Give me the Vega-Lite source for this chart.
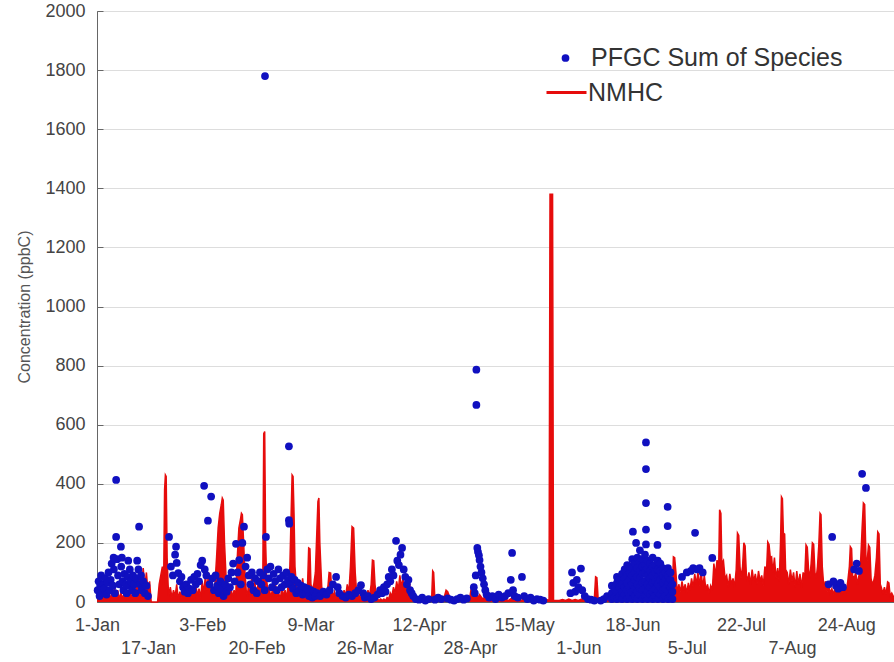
{
  "$schema": "https://vega.github.io/schema/vega-lite/v6.json",
  "width": 797,
  "height": 591,
  "autosize": {"type": "none"},
  "padding": {"left": 97, "top": 11, "right": 0, "bottom": 60},
  "background": "white",
  "config": {
    "font": "Liberation Sans",
    "view": {"stroke": "#666666", "strokeWidth": 1}
  },
  "datasets": {
    "pfgc": [
      {"day":0.2,"conc":40},{"day":0.5,"conc":70},{"day":0.8,"conc":20},{"day":1,"conc":55},{"day":1.3,"conc":90},{"day":1.6,"conc":30},{"day":2,"conc":60},{"day":2.3,"conc":45},{"day":2.6,"conc":80},{"day":3,"conc":25},{"day":3.3,"conc":65},{"day":3.6,"conc":100},{"day":4,"conc":40},{"day":4.3,"conc":75},{"day":4.6,"conc":130},{"day":5,"conc":55},{"day":5.2,"conc":150},{"day":5.3,"conc":110},{"day":5.6,"conc":30},{"day":6,"conc":413},{"day":6,"conc":220},{"day":6.3,"conc":145},{"day":6.6,"conc":90},{"day":7,"conc":60},{"day":7.5,"conc":187},{"day":7.6,"conc":120},{"day":7.8,"conc":150},{"day":8,"conc":70},{"day":8.3,"conc":40},{"day":8.6,"conc":95},{"day":9,"conc":60},{"day":9.3,"conc":30},{"day":9.6,"conc":85},{"day":9.8,"conc":140},{"day":10,"conc":55},{"day":10.3,"conc":110},{"day":10.6,"conc":70},{"day":11,"conc":40},{"day":11.3,"conc":90},{"day":11.6,"conc":60},{"day":12,"conc":30},{"day":12.3,"conc":80},{"day":12.6,"conc":140},{"day":13,"conc":110},{"day":13.2,"conc":255},{"day":13.5,"conc":60},{"day":13.8,"conc":90},{"day":14,"conc":40},{"day":14.5,"conc":70},{"day":15,"conc":30},{"day":15.5,"conc":55},{"day":16,"conc":20},
      {"day":22.6,"conc":220},{"day":23.2,"conc":120},{"day":23.8,"conc":90},{"day":24.5,"conc":160},{"day":24.8,"conc":187},{"day":25,"conc":132},{"day":25.5,"conc":98},{"day":26,"conc":70},{"day":26.5,"conc":85},{"day":27,"conc":50},{"day":27.5,"conc":35},{"day":28,"conc":60},{"day":28.5,"conc":30},{"day":29,"conc":45},{"day":29.5,"conc":75},{"day":30,"conc":40},{"day":30.5,"conc":85},{"day":31,"conc":60},{"day":31.5,"conc":95},{"day":32,"conc":70},{"day":32.5,"conc":125},{"day":33,"conc":140},
      {"day":33.6,"conc":393},{"day":33.8,"conc":110},{"day":34.3,"conc":90},{"day":34.8,"conc":275},{"day":35.3,"conc":60},{"day":35.8,"conc":357},{"day":36.2,"conc":80},{"day":36.7,"conc":40},{"day":37.2,"conc":90},{"day":37.7,"conc":55},{"day":38.2,"conc":30},{"day":38.7,"conc":70},{"day":39.2,"conc":45},{"day":39.7,"conc":20},{"day":40.2,"conc":60},{"day":40.7,"conc":35},{"day":41.2,"conc":80},{"day":41.7,"conc":50},{"day":42.2,"conc":100},{"day":42.7,"conc":130},{"day":43.2,"conc":70},{"day":43.6,"conc":197},{"day":44.1,"conc":100},{"day":44.6,"conc":142},{"day":45.1,"conc":60},{"day":45.6,"conc":200},{"day":46.1,"conc":255},{"day":46.6,"conc":120},{"day":47.1,"conc":150},{"day":47.6,"conc":90},{"day":48.1,"conc":60},{"day":48.6,"conc":100},{"day":49.1,"conc":40},{"day":49.6,"conc":80},{"day":50.1,"conc":30},{"day":50.6,"conc":70},{"day":51.1,"conc":100},{"day":51.6,"conc":60},{"day":52.1,"conc":90},{"day":52.6,"conc":40},{"day":52.7,"conc":1780},{"day":53,"conc":220},{"day":53.4,"conc":110},{"day":53.9,"conc":80},{"day":54.4,"conc":120},{"day":54.9,"conc":50},{"day":55.4,"conc":95},{"day":55.9,"conc":70},{"day":56.4,"conc":40},{"day":56.9,"conc":110},{"day":57.4,"conc":80},{"day":57.9,"conc":50},{"day":58.4,"conc":90},{"day":58.9,"conc":60},{"day":59.4,"conc":100},{"day":59.9,"conc":75},{"day":60.2,"conc":527},{"day":60.2,"conc":277},{"day":60.3,"conc":265},
      {"day":60.6,"conc":60},{"day":61,"conc":85},{"day":61.5,"conc":45},{"day":62,"conc":75},{"day":62.5,"conc":30},{"day":63,"conc":65},{"day":63.5,"conc":40},{"day":64,"conc":55},{"day":64.5,"conc":25},{"day":65,"conc":50},{"day":65.5,"conc":30},{"day":66,"conc":45},{"day":66.5,"conc":20},{"day":67,"conc":40},{"day":67.5,"conc":15},{"day":68,"conc":35},{"day":68.5,"conc":20},{"day":69,"conc":30},{"day":70,"conc":20},{"day":71,"conc":35},{"day":72,"conc":25},{"day":73,"conc":40},{"day":74,"conc":60},{"day":75,"conc":85},{"day":75.5,"conc":50},{"day":76,"conc":30},{"day":77,"conc":20},{"day":78,"conc":15},{"day":79,"conc":25},{"day":80,"conc":20},{"day":81,"conc":30},{"day":82,"conc":40},{"day":82.8,"conc":57},{"day":83.5,"conc":30},{"day":84,"conc":15},{"day":85,"conc":20},{"day":86,"conc":10},{"day":87,"conc":15},{"day":88,"conc":25},{"day":88.8,"conc":40},{"day":89.4,"conc":30},{"day":90,"conc":50},{"day":90.5,"conc":35},{"day":91,"conc":60},{"day":91.5,"conc":85},{"day":92,"conc":70},{"day":92.5,"conc":110},{"day":93,"conc":90},{"day":93.8,"conc":207},{"day":94.2,"conc":140},{"day":94.7,"conc":125},{"day":95.2,"conc":160},{"day":95.7,"conc":183},{"day":96.2,"conc":110},{"day":96.7,"conc":85},{"day":97.2,"conc":60},{"day":97.7,"conc":75},{"day":98.2,"conc":40},{"day":98.7,"conc":30},{"day":99.2,"conc":20},
      {"day":100,"conc":10},{"day":101,"conc":8},{"day":102,"conc":15},{"day":103,"conc":5},{"day":104,"conc":10},{"day":106,"conc":8},{"day":107,"conc":15},{"day":108,"conc":10},{"day":110,"conc":12},{"day":111,"conc":8},{"day":112,"conc":5},{"day":113,"conc":10},{"day":114,"conc":15},{"day":115,"conc":8},{"day":116,"conc":12},{"day":118.2,"conc":50},{"day":118.5,"conc":30},{"day":118.8,"conc":90},{"day":119,"conc":786},{"day":119,"conc":667},{"day":119.3,"conc":183},{"day":119.5,"conc":170},{"day":119.8,"conc":158},{"day":120,"conc":142},{"day":120.3,"conc":120},{"day":120.6,"conc":100},{"day":121,"conc":80},{"day":121.4,"conc":60},{"day":121.8,"conc":40},{"day":122.2,"conc":25},{"day":123,"conc":15},{"day":124,"conc":20},{"day":125,"conc":10},{"day":126,"conc":25},{"day":127,"conc":15},{"day":128,"conc":20},{"day":129,"conc":30},{"day":129.8,"conc":75},{"day":130.2,"conc":166},{"day":130.5,"conc":40},{"day":131,"conc":20},{"day":132,"conc":15},{"day":133.3,"conc":85},{"day":134,"conc":20},{"day":135,"conc":10},{"day":136,"conc":15},{"day":137,"conc":5},{"day":138,"conc":10},{"day":139,"conc":8},{"day":140,"conc":5},
      {"day":148.5,"conc":30},{"day":149,"conc":100},{"day":149.4,"conc":65},{"day":150,"conc":35},{"day":150.5,"conc":75},{"day":151,"conc":50},{"day":151.8,"conc":113},{"day":152.2,"conc":40},{"day":153,"conc":20},{"day":154,"conc":10},{"day":155,"conc":8},{"day":156,"conc":5},{"day":158,"conc":5},{"day":159,"conc":10},{"day":160,"conc":20},
      {"day":161.5,"conc":10},{"day":161.5,"conc":30},{"day":161.5,"conc":55},
      {"day":162.3,"conc":15},{"day":162.3,"conc":45},
      {"day":163.1,"conc":10},{"day":163.1,"conc":35},{"day":163.1,"conc":65},{"day":163.1,"conc":85},
      {"day":163.9,"conc":20},{"day":163.9,"conc":50},{"day":163.9,"conc":75},
      {"day":164.7,"conc":10},{"day":164.7,"conc":35},{"day":164.7,"conc":60},{"day":164.7,"conc":95},
      {"day":165.5,"conc":25},{"day":165.5,"conc":50},{"day":165.5,"conc":80},{"day":165.5,"conc":110},
      {"day":166.3,"conc":10},{"day":166.3,"conc":40},{"day":166.3,"conc":65},{"day":166.3,"conc":90},{"day":166.3,"conc":125},
      {"day":167.1,"conc":20},{"day":167.1,"conc":50},{"day":167.1,"conc":75},{"day":167.1,"conc":100},{"day":167.1,"conc":120},
      {"day":167.9,"conc":10},{"day":167.9,"conc":35},{"day":167.9,"conc":60},{"day":167.9,"conc":90},{"day":167.9,"conc":115},{"day":167.9,"conc":145},
      {"day":168.1,"conc":238},
      {"day":168.7,"conc":20},{"day":168.7,"conc":45},{"day":168.7,"conc":75},{"day":168.7,"conc":100},{"day":168.7,"conc":130},
      {"day":169.1,"conc":200},
      {"day":169.5,"conc":10},{"day":169.5,"conc":35},{"day":169.5,"conc":60},{"day":169.5,"conc":85},{"day":169.5,"conc":115},{"day":169.5,"conc":150},
      {"day":170.3,"conc":25},{"day":170.3,"conc":50},{"day":170.3,"conc":80},{"day":170.3,"conc":105},{"day":170.3,"conc":135},{"day":170.3,"conc":175},
      {"day":171.1,"conc":10},{"day":171.1,"conc":40},{"day":171.1,"conc":65},{"day":171.1,"conc":95},{"day":171.1,"conc":120},{"day":171.1,"conc":145},
      {"day":171.9,"conc":20},{"day":171.9,"conc":45},{"day":171.9,"conc":70},{"day":171.9,"conc":100},{"day":171.9,"conc":125},{"day":171.9,"conc":160},
      {"day":172.2,"conc":540},{"day":172.2,"conc":450},{"day":172.2,"conc":335},{"day":172.2,"conc":245},{"day":172.2,"conc":195},
      {"day":172.7,"conc":10},{"day":172.7,"conc":35},{"day":172.7,"conc":60},{"day":172.7,"conc":90},{"day":172.7,"conc":115},{"day":172.7,"conc":140},
      {"day":173.5,"conc":25},{"day":173.5,"conc":50},{"day":173.5,"conc":80},{"day":173.5,"conc":105},{"day":173.5,"conc":130},
      {"day":174.3,"conc":10},{"day":174.3,"conc":35},{"day":174.3,"conc":65},{"day":174.3,"conc":90},{"day":174.3,"conc":120},{"day":174.3,"conc":150},
      {"day":175.1,"conc":20},{"day":175.1,"conc":45},{"day":175.1,"conc":70},{"day":175.1,"conc":100},{"day":175.1,"conc":125},
      {"day":175.8,"conc":193},
      {"day":175.9,"conc":10},{"day":175.9,"conc":35},{"day":175.9,"conc":60},{"day":175.9,"conc":85},{"day":175.9,"conc":110},{"day":175.9,"conc":140},
      {"day":176.7,"conc":25},{"day":176.7,"conc":50},{"day":176.7,"conc":75},{"day":176.7,"conc":105},{"day":176.7,"conc":130},
      {"day":177.5,"conc":10},{"day":177.5,"conc":40},{"day":177.5,"conc":65},{"day":177.5,"conc":90},{"day":177.5,"conc":115},
      {"day":178.3,"conc":20},{"day":178.3,"conc":45},{"day":178.3,"conc":75},{"day":178.3,"conc":100},
      {"day":179,"conc":322},{"day":179,"conc":257},
      {"day":179.1,"conc":10},{"day":179.1,"conc":35},{"day":179.1,"conc":60},{"day":179.1,"conc":90},{"day":179.1,"conc":115},
      {"day":179.9,"conc":20},{"day":179.9,"conc":50},{"day":179.9,"conc":75},{"day":179.9,"conc":100},
      {"day":180.5,"conc":10},{"day":180.5,"conc":35},{"day":180.5,"conc":60},
      {"day":183.5,"conc":85},{"day":185,"conc":100},{"day":186.3,"conc":105},{"day":187,"conc":115},{"day":187.6,"conc":234},{"day":188.3,"conc":110},{"day":189,"conc":115},{"day":190,"conc":100},{"day":193,"conc":149},
      {"day":229.5,"conc":60},{"day":230.6,"conc":220},{"day":231,"conc":70},{"day":231.8,"conc":55},{"day":232.5,"conc":45},{"day":233.2,"conc":65},{"day":234,"conc":50},{"day":237.5,"conc":110},{"day":238.3,"conc":130},{"day":239,"conc":105},{"day":240,"conc":434},{"day":241.2,"conc":386}
    ],
    "nmhc": [
      {"day":0,"conc":20},{"day":0.5,"conc":45},{"day":1,"conc":15},{"day":1.5,"conc":40},{"day":2,"conc":10},{"day":2.5,"conc":35},{"day":3,"conc":15},{"day":3.5,"conc":30},{"day":4,"conc":10},{"day":4.5,"conc":25},{"day":5,"conc":20},{"day":5.5,"conc":50},{"day":6,"conc":15},{"day":6.5,"conc":40},{"day":7,"conc":10},{"day":7.5,"conc":30},{"day":8,"conc":15},{"day":8.5,"conc":25},{"day":9,"conc":10},{"day":9.5,"conc":35},{"day":10,"conc":15},{"day":10.5,"conc":30},{"day":11,"conc":10},{"day":11.5,"conc":60},{"day":12,"conc":20},{"day":12.5,"conc":90},{"day":13,"conc":40},{"day":13.5,"conc":110},{"day":14,"conc":60},{"day":14.5,"conc":115},{"day":15,"conc":50},{"day":15.5,"conc":100},{"day":16,"conc":30},{"day":16.5,"conc":70},{"day":17,"conc":0},{"day":19,"conc":0},{"day":19.5,"conc":60},{"day":20,"conc":90},{"day":20.5,"conc":120},{"day":20.9,"conc":60},{"day":21.2,"conc":380},{"day":21.45,"conc":430},{"day":21.7,"conc":425},{"day":22,"conc":150},{"day":22.3,"conc":60},{"day":22.5,"conc":20},{"day":23,"conc":50},{"day":23.5,"conc":15},{"day":24,"conc":40},{"day":24.5,"conc":20},{"day":25,"conc":60},{"day":25.5,"conc":10},{"day":26,"conc":35},{"day":26.5,"conc":15},{"day":27,"conc":45},{"day":27.5,"conc":10},{"day":28,"conc":30},{"day":28.5,"conc":20},{"day":29,"conc":50},{"day":29.5,"conc":15},{"day":30,"conc":40},{"day":30.5,"conc":10},{"day":31,"conc":60},{"day":31.5,"conc":20},{"day":32,"conc":45},{"day":32.5,"conc":15},{"day":33,"conc":70},{"day":33.5,"conc":30},{"day":34,"conc":90},{"day":34.5,"conc":40},{"day":35,"conc":100},{"day":35.5,"conc":30},{"day":36,"conc":80},{"day":36.5,"conc":20},{"day":37,"conc":60},{"day":37.5,"conc":150},{"day":38,"conc":250},{"day":38.5,"conc":300},{"day":39,"conc":330},{"day":39.3,"conc":352},{"day":39.6,"conc":345},{"day":40,"conc":200},{"day":40.5,"conc":80},{"day":41,"conc":40},{"day":41.5,"conc":20},{"day":42,"conc":50},{"day":42.5,"conc":15},{"day":43,"conc":40},{"day":43.5,"conc":20},{"day":44,"conc":150},{"day":44.5,"conc":250},{"day":45,"conc":280},{"day":45.3,"conc":300},{"day":45.6,"conc":295},{"day":46,"conc":200},{"day":46.3,"conc":120},{"day":46.8,"conc":40},{"day":47.2,"conc":20},{"day":47.5,"conc":60},{"day":48,"conc":25},{"day":48.5,"conc":80},{"day":49,"conc":30},{"day":49.5,"conc":70},{"day":50,"conc":20},{"day":50.5,"conc":60},{"day":51,"conc":30},{"day":51.5,"conc":90},{"day":52,"conc":60},{"day":52.3,"conc":570},{"day":52.6,"conc":577},{"day":52.9,"conc":200},{"day":53.2,"conc":80},{"day":53.6,"conc":30},{"day":54,"conc":50},{"day":54.5,"conc":15},{"day":55,"conc":40},{"day":55.5,"conc":20},{"day":56,"conc":60},{"day":56.5,"conc":15},{"day":57,"conc":30},{"day":57.5,"conc":10},{"day":58,"conc":50},{"day":58.5,"conc":20},{"day":59,"conc":40},{"day":59.5,"conc":15},{"day":60,"conc":60},{"day":60.5,"conc":120},{"day":60.9,"conc":300},{"day":61.2,"conc":430},{"day":61.5,"conc":425},{"day":61.8,"conc":300},{"day":62.1,"conc":120},{"day":62.5,"conc":60},{"day":63,"conc":30},{"day":63.5,"conc":70},{"day":64,"conc":20},{"day":64.5,"conc":80},{"day":65,"conc":30},{"day":65.5,"conc":60},{"day":66,"conc":40},{"day":66.4,"conc":183},{"day":66.8,"conc":180},{"day":67.1,"conc":60},{"day":67.5,"conc":40},{"day":68,"conc":60},{"day":68.5,"conc":100},{"day":69,"conc":250},{"day":69.3,"conc":340},{"day":69.6,"conc":352},{"day":69.9,"conc":200},{"day":70.5,"conc":50},{"day":71,"conc":20},{"day":71.5,"conc":40},{"day":72,"conc":15},{"day":72.5,"conc":60},{"day":72.8,"conc":100},{"day":73.3,"conc":98},{"day":73.6,"conc":40},{"day":74,"conc":20},{"day":74.5,"conc":35},{"day":75,"conc":10},{"day":75.5,"conc":40},{"day":76,"conc":15},{"day":76.5,"conc":30},{"day":77,"conc":10},{"day":77.5,"conc":40},{"day":78,"conc":20},{"day":78.5,"conc":60},{"day":79,"conc":30},{"day":79.5,"conc":120},{"day":80,"conc":255},{"day":80.5,"conc":250},{"day":81,"conc":100},{"day":81.5,"conc":20},{"day":82,"conc":30},{"day":82.5,"conc":10},{"day":83,"conc":25},{"day":83.5,"conc":10},{"day":84,"conc":30},{"day":84.5,"conc":10},{"day":85,"conc":40},{"day":85.5,"conc":20},{"day":86,"conc":60},{"day":86.4,"conc":142},{"day":86.8,"conc":140},{"day":87.2,"conc":60},{"day":87.5,"conc":30},{"day":88,"conc":10},{"day":88.5,"conc":5},{"day":89,"conc":10},{"day":89.5,"conc":5},{"day":90,"conc":10},{"day":90.5,"conc":5},{"day":91,"conc":15},{"day":91.5,"conc":10},{"day":92,"conc":30},{"day":92.5,"conc":20},{"day":93,"conc":50},{"day":93.5,"conc":30},{"day":94,"conc":70},{"day":94.5,"conc":40},{"day":95,"conc":90},{"day":95.5,"conc":50},{"day":96,"conc":80},{"day":96.5,"conc":40},{"day":97,"conc":60},{"day":97.5,"conc":30},{"day":98,"conc":70},{"day":98.5,"conc":20},{"day":99,"conc":40},{"day":99.5,"conc":10},{"day":100,"conc":20},{"day":100.5,"conc":5},{"day":101,"conc":10},{"day":102,"conc":5},{"day":103,"conc":8},{"day":104,"conc":5},{"day":105,"conc":20},{"day":105.3,"conc":105},{"day":105.6,"conc":100},{"day":105.9,"conc":30},{"day":106.2,"conc":10},{"day":107,"conc":5},{"day":108,"conc":10},{"day":109,"conc":20},{"day":109.5,"conc":40},{"day":110,"conc":35},{"day":110.5,"conc":20},{"day":111,"conc":5},{"day":112,"conc":8},{"day":113,"conc":5},{"day":114,"conc":10},{"day":115,"conc":5},{"day":116,"conc":8},{"day":117,"conc":20},{"day":117.5,"conc":55},{"day":118,"conc":40},{"day":118.5,"conc":60},{"day":119,"conc":30},{"day":119.5,"conc":15},{"day":120,"conc":25},{"day":121,"conc":10},{"day":122,"conc":20},{"day":123,"conc":10},{"day":124,"conc":15},{"day":125,"conc":8},{"day":126,"conc":10},{"day":127,"conc":5},{"day":128,"conc":10},{"day":129,"conc":5},{"day":130,"conc":12},{"day":131,"conc":5},{"day":132,"conc":8},{"day":133,"conc":5},{"day":134,"conc":10},{"day":135,"conc":20},{"day":135.5,"conc":5},{"day":136,"conc":8},{"day":137,"conc":5},{"day":138,"conc":15},{"day":138.5,"conc":5},{"day":139,"conc":8},{"day":140,"conc":5},{"day":141,"conc":8},{"day":141.8,"conc":5},{"day":142.1,"conc":1380},{"day":142.9,"conc":1380},{"day":143.2,"conc":5},{"day":144,"conc":5},{"day":145,"conc":5},{"day":146,"conc":8},{"day":147,"conc":5},{"day":148,"conc":10},{"day":149,"conc":5},{"day":150,"conc":8},{"day":151,"conc":5},{"day":152,"conc":10},{"day":153,"conc":5},{"day":154,"conc":8},{"day":155,"conc":5},{"day":156,"conc":10},{"day":156.4,"conc":85},{"day":156.8,"conc":82},{"day":157.2,"conc":10},{"day":158,"conc":5},{"day":160,"conc":5},{"day":162,"conc":5},{"day":164,"conc":5},{"day":166,"conc":5},{"day":168,"conc":5},{"day":170,"conc":5},{"day":172,"conc":5},{"day":174,"conc":5},{"day":176,"conc":5},{"day":178,"conc":5},{"day":180,"conc":5},{"day":180.5,"conc":40},{"day":180.8,"conc":153},{"day":181.2,"conc":150},{"day":181.6,"conc":100},{"day":182,"conc":30},{"day":182.5,"conc":60},{"day":183,"conc":35},{"day":183.5,"conc":70},{"day":184,"conc":40},{"day":184.5,"conc":60},{"day":185,"conc":30},{"day":185.5,"conc":65},{"day":186,"conc":40},{"day":186.5,"conc":80},{"day":187,"conc":50},{"day":187.5,"conc":95},{"day":188,"conc":60},{"day":188.5,"conc":100},{"day":189,"conc":55},{"day":189.5,"conc":105},{"day":190,"conc":50},{"day":190.5,"conc":90},{"day":191,"conc":40},{"day":191.5,"conc":60},{"day":192,"conc":30},{"day":192.5,"conc":55},{"day":193,"conc":40},{"day":193.5,"conc":130},{"day":194,"conc":90},{"day":194.5,"conc":142},{"day":195,"conc":110},{"day":195.3,"conc":312},{"day":195.7,"conc":300},{"day":196,"conc":130},{"day":196.5,"conc":140},{"day":197,"conc":80},{"day":197.5,"conc":90},{"day":198,"conc":50},{"day":198.5,"conc":95},{"day":199,"conc":60},{"day":199.5,"conc":80},{"day":200,"conc":50},{"day":200.5,"conc":110},{"day":200.9,"conc":233},{"day":201.3,"conc":225},{"day":201.7,"conc":120},{"day":202,"conc":80},{"day":202.5,"conc":120},{"day":202.9,"conc":200},{"day":203.3,"conc":190},{"day":203.7,"conc":90},{"day":204,"conc":70},{"day":204.5,"conc":100},{"day":205,"conc":60},{"day":205.5,"conc":110},{"day":206,"conc":70},{"day":206.5,"conc":95},{"day":207,"conc":60},{"day":207.5,"conc":105},{"day":208,"conc":70},{"day":208.5,"conc":90},{"day":209,"conc":55},{"day":209.5,"conc":120},{"day":210,"conc":100},{"day":210.4,"conc":203},{"day":210.8,"conc":195},{"day":211.2,"conc":150},{"day":211.6,"conc":153},{"day":212,"conc":100},{"day":212.5,"conc":150},{"day":213,"conc":80},{"day":213.5,"conc":115},{"day":214,"conc":70},{"day":214.4,"conc":200},{"day":214.7,"conc":356},{"day":215,"conc":350},{"day":215.3,"conc":233},{"day":215.7,"conc":230},{"day":216,"conc":110},{"day":216.5,"conc":100},{"day":217,"conc":60},{"day":217.5,"conc":110},{"day":218,"conc":70},{"day":218.5,"conc":100},{"day":219,"conc":50},{"day":219.5,"conc":105},{"day":220,"conc":60},{"day":220.5,"conc":95},{"day":221,"conc":50},{"day":221.5,"conc":100},{"day":222,"conc":80},{"day":222.4,"conc":193},{"day":222.8,"conc":185},{"day":223.2,"conc":110},{"day":223.6,"conc":80},{"day":224,"conc":130},{"day":224.4,"conc":200},{"day":224.8,"conc":195},{"day":225.2,"conc":100},{"day":225.6,"conc":80},{"day":226,"conc":120},{"day":226.4,"conc":190},{"day":226.8,"conc":300},{"day":227.1,"conc":295},{"day":227.5,"conc":120},{"day":228,"conc":50},{"day":228.5,"conc":70},{"day":229,"conc":35},{"day":229.5,"conc":60},{"day":230,"conc":30},{"day":230.5,"conc":45},{"day":231,"conc":25},{"day":231.5,"conc":50},{"day":232,"conc":30},{"day":232.5,"conc":45},{"day":233,"conc":25},{"day":233.5,"conc":55},{"day":234,"conc":30},{"day":234.5,"conc":45},{"day":235,"conc":35},{"day":235.5,"conc":70},{"day":236,"conc":120},{"day":236.3,"conc":187},{"day":236.7,"conc":180},{"day":237,"conc":90},{"day":237.5,"conc":80},{"day":238,"conc":100},{"day":238.5,"conc":60},{"day":239,"conc":90},{"day":239.5,"conc":130},{"day":240,"conc":250},{"day":240.4,"conc":335},{"day":240.8,"conc":330},{"day":241.2,"conc":150},{"day":241.6,"conc":140},{"day":242,"conc":193},{"day":242.4,"conc":185},{"day":242.8,"conc":80},{"day":243.2,"conc":60},{"day":243.6,"conc":70},{"day":244,"conc":90},{"day":244.5,"conc":150},{"day":244.9,"conc":237},{"day":245.3,"conc":230},{"day":245.7,"conc":60},{"day":246,"conc":50},{"day":246.5,"conc":30},{"day":247,"conc":50},{"day":247.5,"conc":25},{"day":248,"conc":68},{"day":248.4,"conc":65},{"day":248.8,"conc":20},{"day":249.3,"conc":30},{"day":250,"conc":15}
    ]
  },
  "encoding": {
    "x": {
      "field": "day",
      "type": "quantitative",
      "scale": {"domain": [0, 250], "nice": false, "zero": false},
      "axis": {
        "title": null,
        "values": [0, 16, 33, 50, 67, 84, 101, 117, 134, 151, 168, 185, 202, 218, 235],
        "grid": false,
        "ticks": false,
        "labelFontSize": 18,
        "labelColor": "#444444",
        "labelPadding": 14,
        "labelLineHeight": 23,
        "labelOverlap": false,
        "labelBaseline": "top",
        "labelFlush": false,
        "domainColor": "#666666",
        "labelExpr": "round(datum.value / 16.67) % 2 == 1 ? ['', utcFormat(utc(2009, 0, 1 + datum.value), '%-d-%b')] : utcFormat(utc(2009, 0, 1 + datum.value), '%-d-%b')"
      }
    },
    "y": {
      "field": "conc",
      "type": "quantitative",
      "scale": {"domain": [0, 2000], "nice": false},
      "axis": {
        "title": "Concentration (ppbC)",
        "values": [0, 200, 400, 600, 800, 1000, 1200, 1400, 1600, 1800, 2000],
        "format": "d",
        "grid": true,
        "gridColor": "#dddddd",
        "tickSize": -6,
        "tickColor": "#666666",
        "domainColor": "#666666",
        "labelFontSize": 18,
        "labelColor": "#444444",
        "labelPadding": 18,
        "titleFontSize": 16,
        "titleFontWeight": "normal",
        "titleColor": "#555555",
        "titlePadding": 12
      }
    }
  },
  "layer": [
    {
      "data": {"name": "nmhc"},
      "mark": {"type": "area", "color": "#e60c0c", "opacity": 1}
    },
    {
      "data": {"name": "nmhc"},
      "mark": {"type": "line", "strokeWidth": 1.5},
      "encoding": {
        "stroke": {
          "datum": "NMHC",
          "type": "nominal",
          "scale": {"range": ["#e60c0c"]},
          "legend": {
            "title": null,
            "orient": "none",
            "legendX": 448,
            "legendY": 60,
            "padding": 0,
            "symbolType": "stroke",
            "symbolSize": 1600,
            "symbolStrokeWidth": 3,
            "labelFontSize": 25,
            "labelColor": "#333333",
            "labelOffset": 0,
            "labelLimit": 400
          }
        }
      }
    },
    {
      "data": {"name": "pfgc"},
      "mark": {"type": "point", "filled": true, "size": 60, "opacity": 1, "strokeWidth": 0},
      "encoding": {
        "fill": {
          "datum": "PFGC Sum of Species",
          "type": "nominal",
          "scale": {"range": ["#1010c0"]},
          "legend": {
            "title": null,
            "orient": "none",
            "legendX": 456,
            "legendY": 34.5,
            "padding": 0,
            "symbolType": "circle",
            "symbolSize": 60,
            "symbolStrokeWidth": 0,
            "labelFontSize": 25,
            "labelColor": "#333333",
            "labelOffset": 13,
            "labelLimit": 400
          }
        }
      }
    }
  ]
}
